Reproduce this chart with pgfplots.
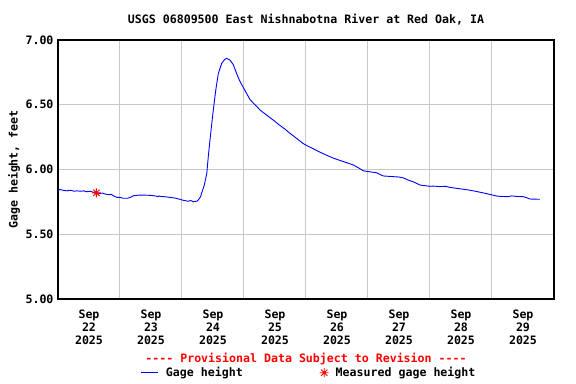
\documentclass[border=0pt]{standalone}
\usepackage{fontspec}
\setmainfont{DejaVu Sans Mono}[BoldFont={DejaVu Sans Mono Bold}]
\usepackage{pgfplots}
\pgfplotsset{compat=1.18}
\definecolor{gridgray}{RGB}{200,200,200}
\pgfdeclareplotmark{ast8}{%
 \pgfpathmoveto{\pgfpoint{-\pgfplotmarksize}{0pt}}\pgfpathlineto{\pgfpoint{\pgfplotmarksize}{0pt}}%
 \pgfpathmoveto{\pgfpoint{0pt}{-\pgfplotmarksize}}\pgfpathlineto{\pgfpoint{0pt}{\pgfplotmarksize}}%
 \pgfpathmoveto{\pgfpoint{-0.707\pgfplotmarksize}{-0.707\pgfplotmarksize}}\pgfpathlineto{\pgfpoint{0.707\pgfplotmarksize}{0.707\pgfplotmarksize}}%
 \pgfpathmoveto{\pgfpoint{-0.707\pgfplotmarksize}{0.707\pgfplotmarksize}}\pgfpathlineto{\pgfpoint{0.707\pgfplotmarksize}{-0.707\pgfplotmarksize}}%
 \pgfusepathqstroke}
\newcommand{\ff}{\fontsize{11.6bp}{13bp}\selectfont\bfseries}
\newcommand{\dsh}{{-}{-}{-}{-}}
\begin{document}
\begin{tikzpicture}
\useasboundingbox (-58bp,-85bp) rectangle (518bp,299bp);
\begin{axis}[
  at={(0,0)}, anchor=south west,
  scale only axis, width=496bp, height=259bp,
  xmin=0, xmax=8, ymin=5, ymax=7,
  clip mode=individual,
  axis line style={black, line width=1.2bp},
  xtick={0.5,1.5,2.5,3.5,4.5,5.5,6.5,7.5},
  xticklabels={Sep\\22\\2025,Sep\\23\\2025,Sep\\24\\2025,Sep\\25\\2025,Sep\\26\\2025,Sep\\27\\2025,Sep\\28\\2025,Sep\\29\\2025},
  minor xtick={1,2,3,4,5,6,7},
  ytick={5,5.5,6,6.5,7},
  major x tick style={draw=none},
  major tick length=0pt, minor tick length=0pt,
  xmajorgrids=false, xminorgrids=true, ymajorgrids=true,
  minor grid style={gridgray, line width=1bp},
  major grid style={gridgray, line width=1bp},
  /pgf/number format/assume math mode=true,
  yticklabel style={/pgf/number format/fixed, /pgf/number format/fixed zerofill, /pgf/number format/precision=2, xshift=-1bp},
  ticklabel style={font=\ff},
  xticklabel style={align=center, yshift=-7bp},
  title={USGS 06809500 East Nishnabotna River at Red Oak, IA},
  title style={font=\ff, at={(axis description cs:0.5,1)}, anchor=base, yshift=11bp},
  ylabel={Gage height, feet},
  ylabel style={font=\ff, at={(axis description cs:0,0.5)}, anchor=center, yshift=44bp},
  legend columns=2,
  legend style={at={(axis description cs:0.5065,-0.2846)}, anchor=center, draw=none, fill=none, font=\ff,
    /tikz/every odd column/.append style={column sep=5bp},
    /tikz/every even column/.append style={column sep=75bp}},
]
\addplot[blue, line width=0.9bp] coordinates {
(0.00,5.840) (0.03,5.845) (0.08,5.840) (0.15,5.835) (0.18,5.840) (0.22,5.838) (0.26,5.832) (0.30,5.835) (0.38,5.832) (0.42,5.836) (0.45,5.828)
(0.52,5.832) (0.56,5.826) (0.60,5.820) (0.68,5.815) (0.72,5.818) (0.75,5.812) (0.82,5.805) (0.86,5.808) (0.90,5.795) (0.95,5.785) (1.00,5.785)
(1.05,5.778) (1.12,5.778) (1.17,5.785) (1.22,5.798) (1.30,5.802) (1.40,5.802) (1.50,5.800) (1.58,5.795) (1.61,5.790) (1.63,5.796)
(1.65,5.792) (1.72,5.790) (1.80,5.785) (1.88,5.780) (1.95,5.772) (2.02,5.762) (2.10,5.755) (2.14,5.760) (2.18,5.752)
(2.24,5.755) (2.263,5.765) (2.30,5.790) (2.318,5.820) (2.36,5.880) (2.40,5.970) (2.424,6.100)
(2.463,6.280) (2.505,6.460) (2.544,6.610) (2.585,6.740) (2.64,6.820) (2.69,6.850) (2.72,6.858)
(2.774,6.845) (2.827,6.810) (2.882,6.740) (2.935,6.680) (3.016,6.610) (3.097,6.540) (3.177,6.500)
(3.258,6.460) (3.392,6.410) (3.49,6.375) (3.58,6.340) (3.66,6.312) (3.74,6.280) (3.85,6.240) (3.956,6.200) (4.04,6.178) (4.118,6.160) (4.22,6.135) (4.334,6.110)
(4.44,6.088) (4.548,6.070) (4.66,6.052) (4.763,6.035) (4.85,6.012) (4.924,5.990) (5.03,5.982) (5.14,5.975) (5.20,5.960) (5.247,5.950) (5.40,5.945) (5.50,5.942) (5.57,5.935)
(5.65,5.918) (5.73,5.905) (5.839,5.880) (6.00,5.870) (6.05,5.872) (6.16,5.868) (6.25,5.870) (6.32,5.862) (6.50,5.850) (6.62,5.842) (6.753,5.830)
(6.90,5.815) (7.076,5.795) (7.15,5.792) (7.25,5.790) (7.32,5.796) (7.40,5.792) (7.505,5.790) (7.56,5.782) (7.613,5.772) (7.774,5.770)
};
\addlegendentry{Gage height}
\addplot[only marks, red, mark=ast8, mark size=4.5bp, line width=0.9bp] coordinates {(0.62,5.82)};
\addlegendentry{Measured gage height}
\node[font=\ff, text=red] at (axis description cs:0.5,-0.2317) {\dsh{} Provisional Data Subject to Revision \dsh};
\end{axis}
\end{tikzpicture}
\end{document}
